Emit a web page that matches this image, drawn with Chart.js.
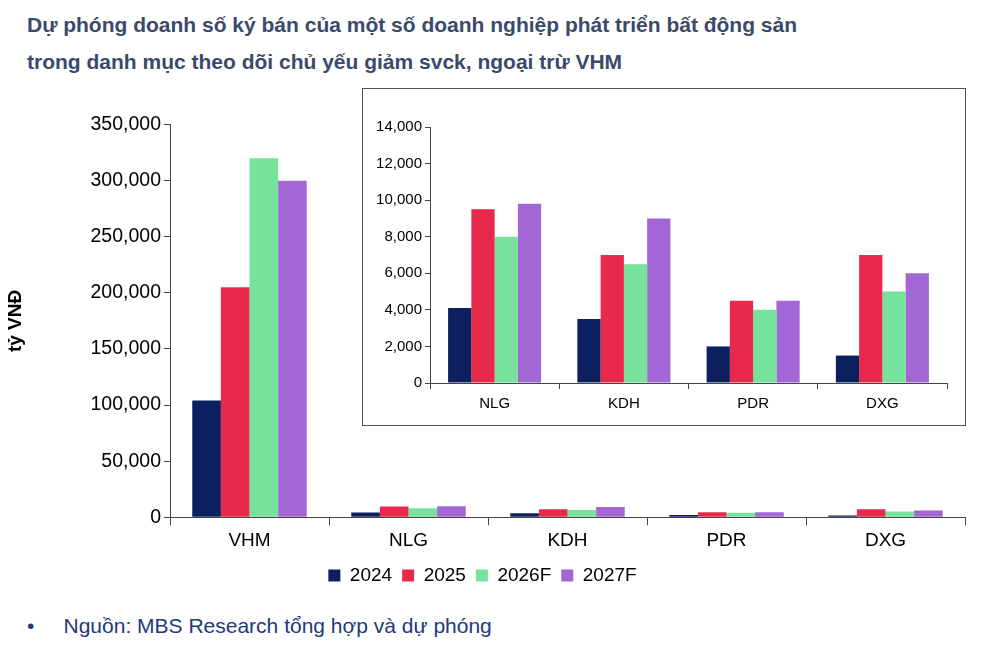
<!DOCTYPE html>
<html><head><meta charset="utf-8">
<script src="https://cdn.jsdelivr.net/npm/chart.js@4/dist/chart.umd.min.js"></script>
<style>
body{margin:0;width:1000px;height:662px;background:#fff;font-family:Arial,"Liberation Sans",sans-serif;position:relative;overflow:hidden}
#title{position:absolute;left:27px;top:6px;width:940px;color:#3b4a6b;font-weight:bold;font-size:21px;line-height:37px;text-align:justify;text-align-last:left}
#main{position:absolute;left:0;top:110px}
#insetBox{position:absolute;left:362px;top:88px;width:602px;height:336px;border:1px solid #555;background:#fff}
#src{position:absolute;left:27px;top:614px;font-size:21px;color:#223a7a}
</style></head><body>
<div id="title">Dự phóng doanh số ký bán của một số doanh nghiệp phát triển bất động sản<br>trong danh mục theo dõi chủ yếu giảm svck, ngoại trừ VHM</div>
<canvas id="main" width="1000" height="485"></canvas>
<div id="insetBox"><canvas id="inset" width="602" height="336"></canvas></div>
<div id="src">•&nbsp;&nbsp;&nbsp;&nbsp; Nguồn: MBS Research tổng hợp và dự phóng</div>
<script>
const categories = ['VHM', 'NLG', 'KDH', 'PDR', 'DXG'];
const seriesNames = ['2024', '2025', '2026F', '2027F'];
const colors = ['#0c1f5e', '#e8294b', '#76e29b', '#a267d4'];
const v2024 = [104000, 4100, 3500, 2000, 1500];
const v2025 = [205000, 9500, 7000, 4500, 7000];
const v2026 = [320000, 8000, 6500, 4000, 5000];
const v2027 = [300000, 9800, 9000, 4500, 6000];
const allSeries = [v2024, v2025, v2026, v2027];
const insetCats = categories.slice(1);

Chart.defaults.font.family = 'Arial, "Liberation Sans", sans-serif';
Chart.defaults.color = '#000';
Chart.defaults.animation = false;

function datasets(slice) {
  return seriesNames.map((n, i) => ({
    label: n,
    data: slice ? allSeries[i].slice(1) : allSeries[i],
    backgroundColor: colors[i],
    categoryPercentage: 0.72,
    barPercentage: 1
  }));
}
const fmt = v => v.toLocaleString('en-US');

new Chart(document.getElementById('main'), {
  type: 'bar',
  data: { labels: categories, datasets: datasets(false) },
  options: {
    responsive: false,
    layout: { padding: { top: 12, right: 35, left: 0, bottom: 0 } },
    plugins: {
      legend: {
        position: 'bottom',
        labels: { font: { size: 19 }, boxWidth: 12, boxHeight: 12, padding: 10 },
        afterFit: undefined
      },
      tooltip: { enabled: false }
    },
    scales: {
      x: {
        grid: { offset: true, drawOnChartArea: false, tickLength: 8, color: '#444' },
        border: { color: '#444' },
        ticks: { font: { size: 19 }, padding: 4 }
      },
      y: {
        min: 0, max: 350000,
        afterFit: s => { s.width = 170; },
        title: { display: true, text: 'tỷ VNĐ', font: { size: 19, weight: 'bold' } },
        grid: { drawOnChartArea: false, tickLength: 6, color: '#444' },
        border: { color: '#444' },
        ticks: { stepSize: 50000, font: { size: 19.5 }, callback: fmt }
      }
    }
  },
  plugins: [{
    id: 'legendSpacing',
    beforeInit(chart) {
      const fit = chart.legend.fit;
      chart.legend.fit = function () {
        fit.bind(this)();
        this.lineWidths = this.lineWidths.map(w => w + 0);
      };
    }
  }]
});

// widen spacing between legend items
Chart.getChart('main').options.plugins.legend.labels.padding = 10;
Chart.getChart('main').legend.options.labels.generateLabels = undefined;

new Chart(document.getElementById('inset'), {
  type: 'bar',
  data: { labels: insetCats, datasets: datasets(true) },
  options: {
    responsive: false,
    layout: { padding: { top: 38, right: 18, left: 0, bottom: 6 } },
    plugins: { legend: { display: false }, tooltip: { enabled: false } },
    scales: {
      x: {
        grid: { offset: true, drawOnChartArea: false, tickLength: 6, color: '#444' },
        border: { color: '#444' },
        ticks: { font: { size: 15 }, padding: 6 }
      },
      y: {
        min: 0, max: 14000,
        afterFit: s => { s.width = 67; },
        grid: { drawOnChartArea: false, tickLength: 5, color: '#444' },
        border: { color: '#444' },
        ticks: { stepSize: 2000, font: { size: 15 }, callback: fmt }
      }
    }
  }
});
</script>
</body></html>
